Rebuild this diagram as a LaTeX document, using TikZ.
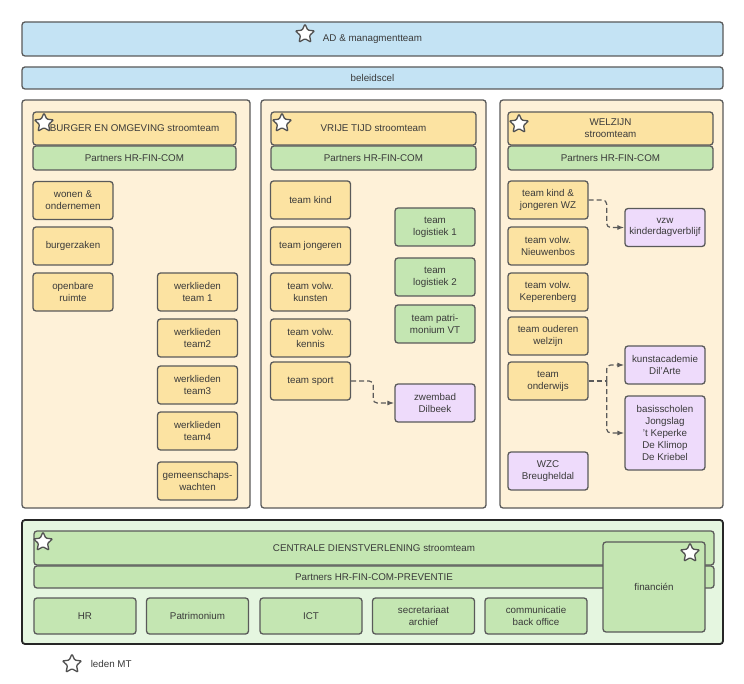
\documentclass[tikz,border=0pt]{standalone}
\usepackage{fontspec}
\setmainfont{Liberation Sans}
\usetikzlibrary{shapes.geometric,arrows.meta,positioning}
\definecolor{blueF}{HTML}{C4E3F4}
\definecolor{creamF}{HTML}{FEF1D8}
\definecolor{yelF}{HTML}{FCE3A2}
\definecolor{grnF}{HTML}{C4E6B2}
\definecolor{purF}{HTML}{EEDBFB}
\definecolor{cdvF}{HTML}{E5F6E0}
\definecolor{lineC}{HTML}{5A5A5A}
\definecolor{textC}{HTML}{3A3A3A}
\tikzset{
  box/.style={draw=lineC, line width=1.3pt, rounded corners=3pt, inner sep=0pt,
    align=center, text=textC, font=\fontsize{9.8}{11.8}\selectfont},
  blauw/.style={box, fill=blueF, minimum width=701pt},
  kolom/.style={box, fill=creamF, minimum height=408pt},
  kop/.style={box, fill=yelF, minimum width=205pt, minimum height=33pt},
  partner/.style={box, fill=grnF, minimum width=205pt, minimum height=24pt},
  geel/.style={box, fill=yelF, minimum width=80pt, minimum height=38pt},
  groen/.style={box, fill=grnF, minimum width=80pt, minimum height=38pt},
  paars/.style={box, fill=purF, minimum width=80pt, minimum height=38pt},
  ster/.style={star, star points=5, star point ratio=2.1, draw=lineC!90!black, fill=white,
    line width=1.3pt, minimum size=20pt, inner sep=0pt, rounded corners=1pt},
  pijl/.style={draw=lineC, line width=1.2pt, dash pattern=on 5pt off 3pt,
    rounded corners=4pt, -{Latex[length=7pt,width=5pt]}}
}
\begin{document}
\begin{tikzpicture}[x=1pt, y=-1pt]
  \useasboundingbox[fill=white] (0,0) rectangle (744,684);
  % bovenkant
  \node[blauw, minimum height=34pt] (ad) at (372.5,39) {AD \& managmentteam};
  \node[ster] (sterAD) at (305,34) {};
  \node[blauw, minimum height=22pt] (beleid) at (372.5,78) {beleidscel};
  % kolommen
  \node[kolom, minimum width=228pt] (burgerKol) at (136,304) {};
  \node[kolom, minimum width=225pt] (vrijeKol) at (373.5,304) {};
  \node[kolom, minimum width=223pt] (welzijnKol) at (611.5,304) {};
  % burger en omgeving
  \node[kop, minimum width=203pt] (burgerKop) at (134.5,128.5) {BURGER EN OMGEVING stroomteam};
  \node[partner, minimum width=203pt] (burgerPart) at (134.5,158) {Partners HR-FIN-COM};
  \node[ster] (sterBurger) at (44,123) {};
  \foreach \n/\y/\t in {wonen/200.5/{wonen \&\\ondernemen}, burgerzaken/246/burgerzaken,
      openbaar/292/{openbare\\ruimte}}
    \node[geel] (\n) at (73,\y) {\t};
  \foreach \n/\y/\t in {werk1/292/{werklieden\\team 1}, werk2/338/{werklieden\\team2},
      werk3/385/{werklieden\\team3}, werk4/431/{werklieden\\team4},
      gemeensch/481/{gemeenschaps-\\wachten}}
    \node[geel] (\n) at (197.5,\y) {\t};
  % vrije tijd
  \node[kop] (vrijeKop) at (373.5,128.5) {VRIJE TIJD stroomteam};
  \node[partner] (vrijePart) at (373.5,158) {Partners HR-FIN-COM};
  \node[ster] (sterVrije) at (282,123) {};
  \foreach \n/\y/\t in {kind/200/team kind, jongeren/246/team jongeren,
      kunsten/292/{team volw.\\kunsten}, kennis/338/{team volw.\\kennis}, sport/381/team sport}
    \node[geel] (\n) at (310.5,\y) {\t};
  \foreach \n/\y/\t in {log1/227/{team\\logistiek 1}, log2/277/{team\\logistiek 2},
      patri/324/{team patri-\\monium VT}}
    \node[groen] (\n) at (435,\y) {\t};
  \node[paars] (zwembad) at (435,403) {zwembad\\Dilbeek};
  \draw[pijl] (sport.east) -- ++(22,0) |- (zwembad.west);
  % welzijn
  \node[kop] (welzijnKop) at (610.5,128.5) {WELZIJN\\stroomteam};
  \node[partner] (welzijnPart) at (610.5,158) {Partners HR-FIN-COM};
  \node[ster] (sterWelzijn) at (519,124) {};
  \foreach \n/\y/\t in {kindjong/200/{team kind \&\\jongeren WZ},
      nieuwenbos/246/{team volw.\\Nieuwenbos}, keperenberg/292/{team volw.\\Keperenberg},
      ouderen/336/{team ouderen\\welzijn}, onderwijs/381/{team\\onderwijs}}
    \node[geel] (\n) at (548,\y) {\t};
  \node[paars] (wzc) at (548,471) {WZC\\Breugheldal};
  \node[paars] (vzw) at (665,227.5) {vzw\\kinderdagverblijf};
  \node[paars] (kunst) at (665,365) {kunstacademie\\Dil'Arte};
  \node[paars, minimum height=74pt] (basis) at (665,433)
    {basisscholen\\Jongslag\\'t Keperke\\De Klimop\\De Kriebel};
  \draw[pijl] (kindjong.east) -- ++(18,0) |- (vzw.west);
  \coordinate (split) at ([xshift=18pt]onderwijs.east);
  \draw[pijl, -] (onderwijs.east) -- (split);
  \draw[pijl] (split) |- (kunst.west);
  \draw[pijl] (split) |- (basis.west);
  % centrale dienstverlening
  \node[box, draw=black!85, line width=1.8pt, fill=cdvF, minimum width=701pt,
    minimum height=124pt] (cdvKol) at (372.5,582) {};
  \node[box, fill=grnF, minimum width=680pt, minimum height=34pt] (cdvKop) at (374,548)
    {CENTRALE DIENSTVERLENING stroomteam};
  \node[box, fill=grnF, minimum width=680pt, minimum height=22pt] (cdvPart) at (374,577)
    {Partners HR-FIN-COM-PREVENTIE};
  \node[ster] (sterCdv) at (43,542) {};
  \foreach \n/\x/\t in {hr/85/HR, patrimonium/197.5/Patrimonium, ict/311/ICT,
      secretariaat/423.5/{secretariaat\\archief}, communicatie/536/{communicatie\\back office}}
    \node[groen, minimum width=102pt, minimum height=36pt] (\n) at (\x,616) {\t};
  \node[groen, minimum width=102pt, minimum height=90pt] (financien) at (654,587) {financién};
  \node[ster] (sterFin) at (690,553) {};
  % legende
  \node[ster] (sterLeg) at (72,664) {};
  \node[box, draw=none, right=11pt of sterLeg] (legende) {leden MT};
\end{tikzpicture}
\end{document}
